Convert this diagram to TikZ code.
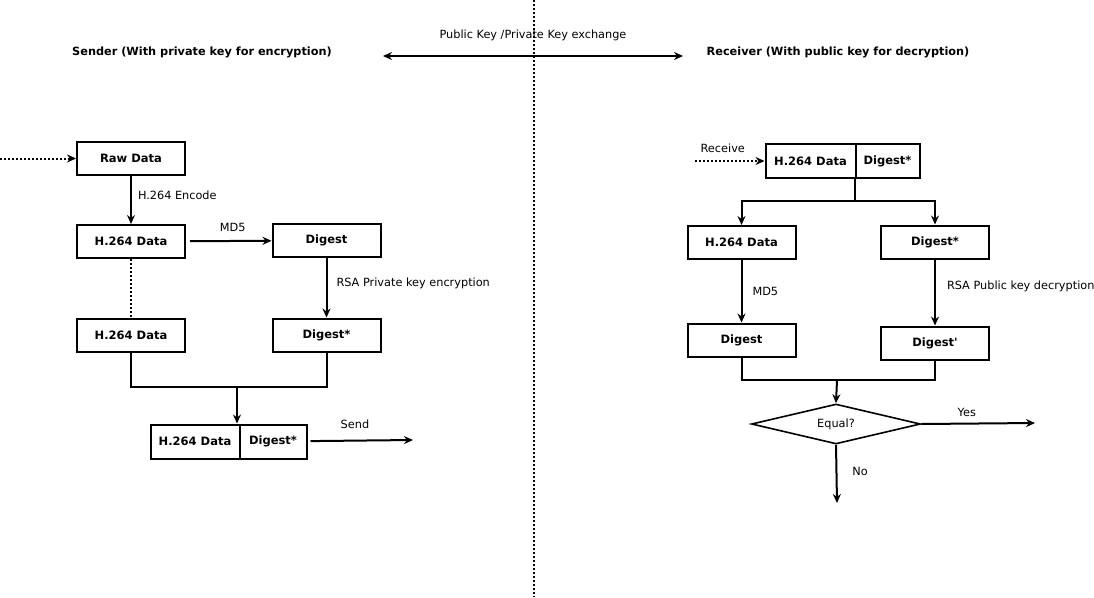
\documentclass[tikz,border=0pt]{standalone}
\usepackage{fontspec}
\setmainfont{DejaVu Sans}
\usetikzlibrary{
  arrows.meta,
  positioning,     % Function "of"
  shapes.geometric % Shape "diamond"
}
\newcommand{\labsize}{\fontsize{11.3}{13}\selectfont}
\def\myboxw{108pt}
\def\myboxh{33pt}
\tikzset{
  font=\fontsize{11.5}{13}\selectfont,
  >={Stealth[length=9pt,width=8pt,inset=3pt]},
  flow/.style={
    line width=2pt
  },
  my box/.style={
    draw,
    rectangle,
    minimum width=\myboxw,
    minimum height=\myboxh,
    inner sep=0pt,
    font=\fontsize{11.5}{13}\selectfont\bfseries
  },
  my half/.style={
    my box,
    minimum width=#1,
    minimum height=34pt
  },
  my next half/.style={
    my half=#1,
    anchor=west,
    xshift=-2pt
  },
  my title/.style={
    font=\fontsize{11.3}{13}\selectfont\bfseries
  },
  my label/.style={
    inner sep=1pt,
    font=\labsize
  },
  my dots/.style={
    dash pattern=on 2pt off 2pt
  },
  my decision/.style={
    draw,
    diamond,
    aspect=4.2,
    minimum width=169pt,
    minimum height=40pt,
    inner sep=0pt,
    line width=1.6pt,
    font=\labsize
  }
}

\begin{document}
\begin{tikzpicture}[x=1pt,y=-1pt,flow]
\useasboundingbox (0,0) rectangle (1094,597);
% Separator and key exchange
\coordinate (top) at (534,0);
\coordinate (bot) at (534,597);
\draw[my dots,line width=1.6pt] (top) -- (bot);
\coordinate (kl) at (383,56);
\coordinate (kr) at (683,56);
\draw[<->] (kl) -- node[my label,above=13pt] {Public Key /Private Key exchange} (kr);
\node[my title] (snd) at (202,52) {Sender (With private key for encryption)};
\node[my title] (rcv) at (838,52) {Receiver (With public key for decryption)};
% Sender side
\coordinate (in) at (0,158.5);
\node[my box]        (raw) at (131,158.5) {Raw Data};
\draw[->,my dots] (in) -- (raw);
\node[my box]        (h1)  at (131,241.5) {H.264 Data};
\draw[->] (raw) -- node[my label,right=5pt,pos=0.4] {H.264 Encode} (h1);
\node[my box]        (dg)  at (326.5,240.5) {Digest};
\draw[->,shorten <=4pt] (h1) -- node[my label,above=7pt,xshift=4pt] {MD5} (dg);
\node[my box]        (h2)  at (131,335) {H.264 Data};
\draw[my dots] (h1) -- (h2);
\node[my box]        (ds)  at (326.5,335) {Digest*};
\draw[->] (dg) -- node[my label,right=8pt,pos=0.43] {RSA Private key encryption} (ds);
% Packet to send
\coordinate (j1) at (237,387);
\draw (h2.south) |- (j1) -| (ds.south);
\node[my half=89pt]  (pktd) at (195,441.5) {H.264 Data};
\node[my next half=67pt] (pktg) at (pktd.east) {Digest*};
\draw[->] (j1) -- (j1 |- pktd.north);
\coordinate (out) at (413,440);
\draw[->,shorten <=3pt] (pktg) -- node[my label,above=10pt,pos=0.45] {Send} (out);
% Receiver side
\node[my half=90pt]  (rpktd) at (810.5,161) {H.264 Data};
\node[my next half=64pt] (rpktg) at (rpktd.east) {Digest*};
\coordinate (rin) at (695,161);
\draw[->,my dots] (rin) -- node[my label,above=6pt,xshift=-7pt] {Receive} (rpktd);
\coordinate (f) at (855,201);
\node[my box]        (rh)  at (741.5,242.5) {H.264 Data};
\node[my box]        (rds) at (935,242) {Digest*};
\draw (f |- rpktd.south) -- (f);
\draw[->] (f) -| (rh.north);
\draw[->] (f) -| (rds.north);
\node[my box]        (rd)  at (741.5,340) {Digest};
\draw[->] (rh) -- node[my label,right=9pt] {MD5} (rd);
\node[my box]        (rdp) at (935,343) {Digest\textquotesingle};
\draw[->] (rds) -- node[my label,right=10pt,pos=0.4] {RSA Public key decryption} (rdp);
% Compare
\coordinate (j2) at (837,380);
\draw (rd.south) |- (j2) -| (rdp.south);
\node[my decision]   (eq)  at (836,424) {Equal?};
\draw[->] (j2) -- (eq.north);
\coordinate (yes) at (1035,423);
\draw[->] (eq.east) -- node[my label,above=5pt,pos=0.4] {Yes} (yes);
\coordinate (no) at (837,503);
\draw[->] (eq.south) -- node[my label,right=14pt,pos=0.45] {No} (no);
\end{tikzpicture}
\end{document}
